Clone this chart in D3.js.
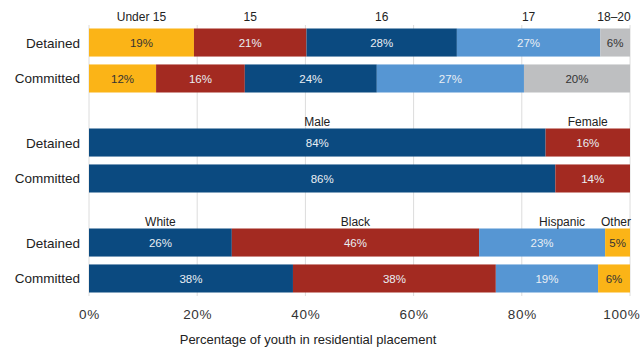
<!DOCTYPE html>
<html><head><meta charset="utf-8">
<script src="https://cdn.jsdelivr.net/npm/d3@7"></script>
<style>
body{margin:0;background:#fff;}
svg{font-family:"Liberation Sans",Arial,Helvetica,sans-serif;}
</style></head>
<body><svg id="chart" width="644" height="348"></svg>
<script>
// ---- data ----
const rowLabels = ["Detained", "Committed"];
const groupNames = ["age", "gender", "race"];
const ageCategories = ["Under 15", "15", "16", "17", "18–20"];
const ageDetained = [19.4, 20.8, 27.8, 26.5, 5.5];
const ageCommitted = [12.4, 16.4, 24.4, 27.2, 19.6];
const genderCategories = ["Male", "Female"];
const genderDetained = [84.4, 15.6];
const genderCommitted = [86.2, 13.8];
const raceCategories = ["White", "Black", "Hispanic", "Other"];
const raceDetained = [26.4, 45.7, 23.3, 4.6];
const raceCommitted = [37.7, 37.5, 18.9, 5.9];
const tickValues = [0, 20, 40, 60, 80, 100];
const axisTitle = "Percentage of youth in residential placement";

// ---- style ----
const C = {yellow:"#FBB417", red:"#A32A21", dblue:"#0B4A80", lblue:"#5696D3", grey:"#BEBFC1"};
const groups = [
  {key:"age", cats:ageCategories, rows:[ageDetained, ageCommitted],
   colors:[C.yellow, C.red, C.dblue, C.lblue, C.grey], labelGap:5},
  {key:"gender", cats:genderCategories, rows:[genderDetained, genderCommitted],
   colors:[C.dblue, C.red], labelGap:0},
  {key:"race", cats:raceCategories, rows:[raceDetained, raceCommitted],
   colors:[C.dblue, C.red, C.lblue, C.yellow], labelGap:0.5}
];
const darkText = new Set([C.yellow, C.grey]);
const labelNudge = {"Hispanic": 20};

const svg = d3.select("#chart");
const x = d3.scaleLinear().domain([0, 100]).range([89, 630]);
const yGroup = d3.scaleBand().domain(groupNames).range([28.5, 328.5]);
const yRow = d3.scaleBand().domain(rowLabels).range([0, 64]).paddingInner(0.22);

// gridlines
svg.append("g").selectAll("line").data(tickValues).join("line")
  .attr("x1", d => x(d)).attr("x2", d => x(d))
  .attr("y1", 25).attr("y2", 296)
  .attr("stroke", "#dcdcdc").attr("stroke-width", 1);

groups.forEach(g => {
  const gy = yGroup(g.key);
  const G = svg.append("g").attr("transform", `translate(0,${gy})`);
  g.rows.forEach((vals, ri) => {
    let acc = 0;
    const segs = vals.map((v, i) => { const s = {v, x0: acc, x1: acc + v, c: g.colors[i], cat: g.cats[i]}; acc += v; return s; });
    const ry = yRow(rowLabels[ri]);
    G.selectAll(null).data(segs).join("rect")
      .attr("x", d => x(d.x0)).attr("width", d => x(d.x1) - x(d.x0))
      .attr("y", ry).attr("height", yRow.bandwidth())
      .attr("fill", d => d.c);
    G.selectAll(null).data(segs).join("text")
      .attr("x", d => (x(d.x0) + x(d.x1)) / 2)
      .attr("y", ry + yRow.bandwidth() / 2 + 4.2)
      .attr("text-anchor", "middle")
      .attr("font-size", 11.5)
      .attr("fill", d => darkText.has(d.c) ? "#333" : "#e9eef3")
      .text(d => Math.round(d.v) + "%");
    // category labels above the first row
    if (ri === 0) {
      const tl = G.selectAll(null).data(segs).join("text")
        .attr("x", d => (x(d.x0) + x(d.x1)) / 2 + (labelNudge[d.cat] || 0))
        .attr("y", -g.labelGap - 2.5)
        .attr("text-anchor", "middle")
        .attr("font-size", 12)
        .attr("fill", "#222")
        .text(d => d.cat);
      tl.each(function(d) {
        const b = this.getBBox();
        if (b.x + b.width > 631) d3.select(this).attr("x", +d3.select(this).attr("x") - (b.x + b.width - 631));
      });
    }
  });
  G.selectAll(null).data(rowLabels).join("text")
    .attr("x", 80).attr("y", d => yRow(d) + yRow.bandwidth() / 2 + 5)
    .attr("text-anchor", "end").attr("font-size", 13.5).attr("fill", "#222")
    .text(d => d);
});

// axis
const ax = svg.append("g").attr("transform", "translate(0,309)")
  .call(d3.axisBottom(x).tickValues(tickValues).tickSize(0).tickPadding(0).tickFormat(d => d + "%"));
ax.select(".domain").remove();
ax.selectAll("text").attr("font-size", 13.5).attr("fill", "#333")
  .attr("font-family", "'Liberation Sans',Arial,sans-serif").attr("letter-spacing", 0.7);
ax.selectAll(".tick").filter(d => d === 100).select("text")
  .attr("text-anchor", "end").attr("x", 10);

svg.append("text").attr("x", 308).attr("y", 344).attr("text-anchor", "middle")
  .attr("font-size", 13).attr("fill", "#222").text(axisTitle);
</script></body></html>
